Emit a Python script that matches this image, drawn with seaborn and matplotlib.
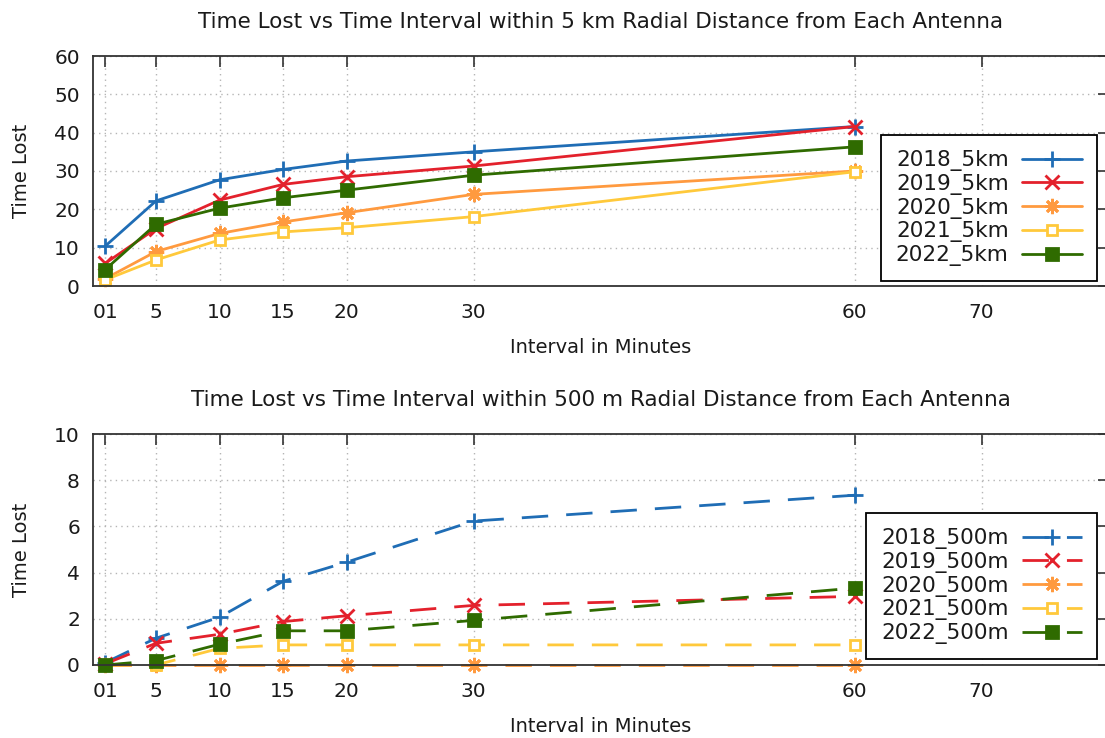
import matplotlib
matplotlib.use("Agg")
import matplotlib.pyplot as plt
import pandas as pd
import seaborn as sns

# Sampling intervals (minutes) and x-axis ticks
intervals = [1, 5, 10, 15, 20, 30, 60]
tick_positions = [1, 5, 10, 15, 20, 30, 60, 70]
tick_labels = ["01", "5", "10", "15", "20", "30", "60", "70"]

# Time lost within 5 km of each antenna
lost_5km_2018 = [10.4, 22.2, 27.7, 30.4, 32.6, 35.0, 41.6]
lost_5km_2019 = [5.9, 15.0, 22.4, 26.5, 28.5, 31.3, 41.6]
lost_5km_2020 = [1.9, 9.0, 13.7, 16.7, 19.1, 23.9, 30.0]
lost_5km_2021 = [1.6, 6.8, 12.0, 14.1, 15.2, 18.1, 29.8]
lost_5km_2022 = [4.3, 16.1, 20.3, 23.0, 25.0, 28.9, 36.3]

# Time lost within 500 m of each antenna
lost_500m_2018 = [0.1, 1.16, 2.07, 3.62, 4.45, 6.23, 7.35]
lost_500m_2019 = [0.05, 0.94, 1.33, 1.88, 2.13, 2.58, 2.97]
lost_500m_2020 = [0.0, 0.0, 0.0, 0.0, 0.0, 0.0, 0.0]
lost_500m_2021 = [0.0, 0.0, 0.72, 0.87, 0.87, 0.87, 0.87]
lost_500m_2022 = [0.0, 0.19, 0.9, 1.48, 1.48, 1.93, 3.33]

years = ["2018", "2019", "2020", "2021", "2022"]
series_5km = [lost_5km_2018, lost_5km_2019, lost_5km_2020, lost_5km_2021, lost_5km_2022]
series_500m = [lost_500m_2018, lost_500m_2019, lost_500m_2020, lost_500m_2021, lost_500m_2022]

colors = ["#1f6db5", "#e3212c", "#ff9a3f", "#ffc93b", "#2f6b00"]
markers = ["+", "x", (8, 2, 0), "s", "s"]
marker_sizes = [11, 10, 11, 7.5, 8]
face_colors = [None, None, None, "white", None]

sns.set_style("white")
plt.rcParams["font.family"] = ["DejaVu Sans"]
plt.rcParams["text.color"] = "#1a1a1a"
plt.rcParams["axes.labelcolor"] = "#1a1a1a"
plt.rcParams["xtick.color"] = "#333333"
plt.rcParams["ytick.color"] = "#333333"
plt.rcParams["xtick.labelcolor"] = "#1a1a1a"
plt.rcParams["ytick.labelcolor"] = "#1a1a1a"

fig = plt.figure(figsize=(11.05, 7.38), dpi=100)
W, H = 1105, 738


def px_axes(left, top, right, bottom):
    return fig.add_axes([left / W, 1 - bottom / H, (right - left) / W, (bottom - top) / H])


ax_top = px_axes(92.5, 56, 1108.5, 286)
ax_bot = px_axes(92.5, 434, 1108.5, 665)


def draw_panel(ax, series, suffix, linestyle, ymax, yticks, title, legend_anchor):
    for year, values, color, marker, ms, fc in zip(
        years, series, colors, markers, marker_sizes, face_colors
    ):
        df = pd.DataFrame({"Interval": intervals, "Lost": values})
        kw = dict(
            color=color, marker=marker, markersize=ms, markeredgecolor=color,
            markeredgewidth=2.0, linewidth=2.0, linestyle=linestyle,
            label=f"{year}_{suffix}", clip_on=False,
        )
        kw["markerfacecolor"] = fc if fc is not None else color
        sns.lineplot(data=df, x="Interval", y="Lost", ax=ax, legend=False, **kw)

    ax.set_xlim(0, 80)
    ax.set_ylim(0, ymax)
    ax.set_xticks(tick_positions)
    ax.set_xticklabels(tick_labels)
    ax.set_yticks(yticks)
    ax.tick_params(direction="in", length=8, width=1.2, top=True, right=True,
                   labelsize=14.5, pad=9)
    ax.tick_params(axis="x", pad=12)
    ax.grid(True, linestyle=(0, (1, 3)), color="#b5b5b5", linewidth=1.0)
    for sp in ax.spines.values():
        sp.set_color("#333333")
        sp.set_linewidth(1.3)
    ax.set_xlabel("Interval in Minutes", fontsize=14, labelpad=12)
    ax.set_ylabel("Time Lost", fontsize=14, labelpad=17)
    ax.set_title(title, fontsize=15.5, pad=20)

    handles, labels = ax.get_legend_handles_labels()
    leg = ax.legend(
        handles, labels, loc="upper right",
        bbox_to_anchor=(legend_anchor[0] / W, 1 - legend_anchor[1] / H),
        bbox_transform=fig.transFigure, borderaxespad=0, fontsize=15.5,
        markerfirst=False, handlelength=2.8, labelspacing=0.13,
        frameon=True, fancybox=False, framealpha=1, edgecolor="black",
        borderpad=0.7, handletextpad=0.6,
    )
    leg.get_frame().set_linewidth(1.3)


draw_panel(ax_top, series_5km, "5km", "-", 60, range(0, 61, 10),
           "Time Lost vs Time Interval within 5 km Radial Distance from Each Antenna",
           (1097, 135))
draw_panel(ax_bot, series_500m, "500m", (0, (9.5, 6.5)), 10, range(0, 11, 2),
           "Time Lost vs Time Interval within 500 m Radial Distance from Each Antenna",
           (1097, 513))

fig.savefig("out.png", dpi=100)
